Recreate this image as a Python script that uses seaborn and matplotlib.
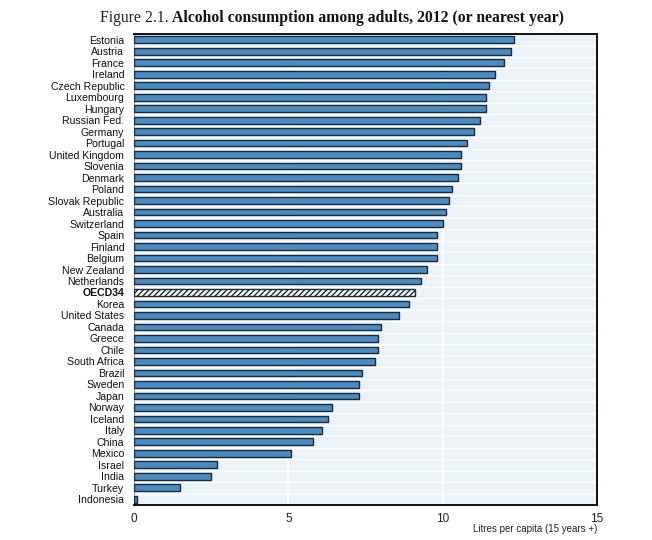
import matplotlib
matplotlib.use("Agg")
import matplotlib.pyplot as plt
import seaborn as sns
import pandas as pd
from matplotlib.ticker import MultipleLocator

countries = [
    "Estonia", "Austria", "France", "Ireland", "Czech Republic", "Luxembourg",
    "Hungary", "Russian Fed.", "Germany", "Portugal", "United Kingdom",
    "Slovenia", "Denmark", "Poland", "Slovak Republic", "Australia",
    "Switzerland", "Spain", "Finland", "Belgium", "New Zealand", "Netherlands",
    "OECD34", "Korea", "United States", "Canada", "Greece", "Chile",
    "South Africa", "Brazil", "Sweden", "Japan", "Norway", "Iceland", "Italy",
    "China", "Mexico", "Israel", "India", "Turkey", "Indonesia",
]
litres = [
    12.3, 12.2, 12.0, 11.7, 11.5, 11.4,
    11.4, 11.2, 11.0, 10.8, 10.6,
    10.6, 10.5, 10.3, 10.2, 10.1,
    10.0, 9.8, 9.8, 9.8, 9.5, 9.3,
    9.1, 8.9, 8.6, 8.0, 7.9, 7.9,
    7.8, 7.4, 7.3, 7.3, 6.4, 6.3, 6.1,
    5.8, 5.1, 2.7, 2.5, 1.5, 0.1,
]
x_ticks = [0, 5, 10, 15]
highlight = "OECD34"

df = pd.DataFrame({"country": countries, "litres": litres})

sns.set_theme(style="white")
plt.rcParams["font.family"] = ["Liberation Sans Narrow", "Liberation Sans", "DejaVu Sans"]
plt.rcParams["hatch.linewidth"] = 1.0

bar_color = "#4a8cc2"
edge_color = "#1b2a3a"
panel_color = "#ebf3f9"

fig = plt.figure(figsize=(6.52, 5.4), dpi=100)
ax = fig.add_axes([0.2055, 0.0648, 0.7102, 0.8722])
ax.set_facecolor(panel_color)

sns.barplot(data=df, y="country", x="litres", orient="h", color=bar_color,
            saturation=1, width=0.58, edgecolor=edge_color, linewidth=1.0,
            ax=ax, zorder=3)

for patch, name in zip(ax.patches, countries):
    if name == highlight:
        patch.set_facecolor("white")
        patch.set_hatch("//////")
        patch.set_edgecolor(edge_color)

# white separators between categories and white vertical grid
for i in range(len(countries) - 1):
    ax.axhline(i + 0.5, color="white", lw=1.0, zorder=1)
for t in x_ticks[1:-1]:
    ax.axvline(t, color="white", lw=1.2, zorder=1)

ax.set_xlim(0, 15)
ax.set_ylim(len(countries) - 0.5, -0.5)
ax.set_xticks(x_ticks)
ax.set_xticklabels([str(t) for t in x_ticks], fontsize=8.5, color="#222222")
ax.tick_params(axis="x", length=0, pad=6)
ax.tick_params(axis="y", length=0, pad=7, labelsize=7.6, labelcolor="#111111")
ax.yaxis.set_minor_locator(MultipleLocator(1, offset=0.5))
ax.tick_params(axis="y", which="minor", direction="in", length=4, width=0.6, color="#333333", left=True)

for lbl in ax.get_yticklabels():
    if lbl.get_text() == highlight:
        lbl.set_fontweight("bold")

ax.set_xlabel("")
ax.set_ylabel("")
for side in ["top", "right", "bottom"]:
    ax.spines[side].set_visible(True)
    ax.spines[side].set_color("#111111")
    ax.spines[side].set_linewidth(1.4)
ax.spines["left"].set_color("#999999")
ax.spines["left"].set_linewidth(0.8)

fig.text(0.9157, 0.012, "Litres per capita (15 years +)", ha="right", va="bottom",
         fontsize=7, color="#222222")

# two-part title: regular prefix, bold remainder
t1 = fig.text(0.153, 0.966, "Figure 2.1. ", ha="left", va="center",
              fontsize=11.3, family="Liberation Serif", color="#222222")
fig.canvas.draw()
bb = t1.get_window_extent(fig.canvas.get_renderer())
x_next = bb.x1 / fig.bbox.width
fig.text(x_next, 0.966, "Alcohol consumption among adults, 2012 (or nearest year)",
         ha="left", va="center", fontsize=11.3, family="Liberation Serif",
         fontweight="bold", color="#111111")

fig.savefig("out.png", dpi=100)
